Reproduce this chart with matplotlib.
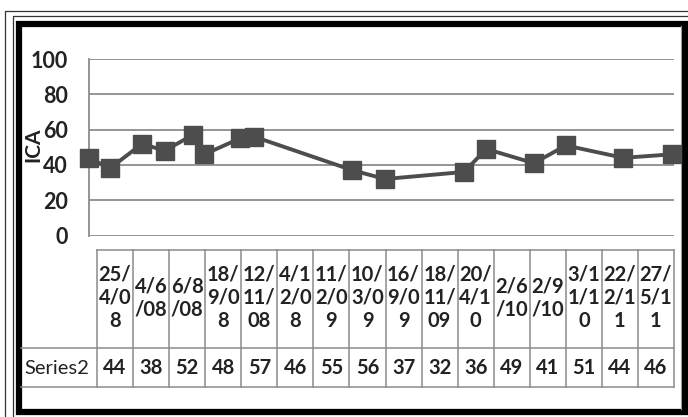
import matplotlib
matplotlib.use("Agg")
import matplotlib.pyplot as plt
import matplotlib.dates as mdates
from matplotlib.patches import Rectangle
from datetime import datetime

# data
dates = ["25/4/08", "4/6/08", "6/8/08", "18/9/08", "12/11/08", "4/12/08",
         "11/2/09", "10/3/09", "16/9/09", "18/11/09", "20/4/10", "2/6/10",
         "2/9/10", "3/11/10", "22/2/11", "27/5/11"]
ica = [44, 38, 52, 48, 57, 46, 55, 56, 37, 32, 36, 49, 41, 51, 44, 46]
series_name = "Series2"
y_ticks = [0, 20, 40, 60, 80, 100]

W, H = 688, 417
plt.rcParams["font.family"] = ["Lato", "DejaVu Sans"]

fig = plt.figure(figsize=(W / 100, H / 100), dpi=100)

# background layer in pixel coords for frame + data table
bg = fig.add_axes([0, 0, 1, 1])
bg.set_xlim(0, W)
bg.set_ylim(H, 0)
bg.axis("off")

# frame: two thin outer lines and a thick black border
bg.add_patch(Rectangle((5, 11), W + 10, H + 10, fill=False, ec="#333333", lw=0.9))
bg.add_patch(Rectangle((13, 16), W + 10, H + 10, fill=False, ec="#333333", lw=0.9))
bg.add_patch(Rectangle((18.5, 23.5), 666, 388, fill=False, ec="black", lw=4.5))
bg.plot([681, 681], [26, 409], color="#999999", lw=0.8)

# chart area
x = [datetime.strptime(d, "%d/%m/%y") for d in dates]
ax = fig.add_axes([89 / W, 1 - 235.5 / H, (674 - 89) / W, (235.5 - 59) / H])
ax.plot(x, ica, color="#4d4d4d", lw=2.8, marker="s", ms=13,
        mfc="#4d4d4d", mec="#4d4d4d", clip_on=False, zorder=3)
span = (x[-1] - x[0]).days
ax.set_xlim(mdates.date2num(x[0]), mdates.date2num(x[-1]) + span * 2 / 583)
ax.set_ylim(0, 100)
ax.set_yticks(y_ticks)
ax.set_yticklabels([str(t) for t in y_ticks], fontsize=15.5, fontweight="bold",
                   color="#222222")
ax.tick_params(axis="y", length=0, pad=15)
ax.set_xticks([])
ax.grid(axis="y", color="#8c8c8c", lw=1.3)
ax.set_axisbelow(True)
for s in ["top", "right", "bottom"]:
    ax.spines[s].set_visible(False)
ax.spines["left"].set_color("#8c8c8c")
ax.spines["left"].set_linewidth(1.3)
bg.text(33, 145, "ICA", rotation=90, ha="center", va="center", fontsize=15,
        fontweight="bold", color="#222222")

# data table under the chart
t_left, t_right = 97, 674
top, mid, bot = 250, 348, 387
n = len(dates)
cw = (t_right - t_left) / n
lc = "#8c8c8c"
bg.plot([t_left, t_right], [top, top], color=lc, lw=1.1)
bg.plot([21, t_right], [mid, mid], color=lc, lw=1.1)
bg.plot([21, t_right], [bot, bot], color=lc, lw=1.1)
for i in range(n + 1):
    cx = t_left + i * cw
    bg.plot([cx, cx], [top, bot], color=lc, lw=1.1)

for i, (d, v) in enumerate(zip(dates, ica)):
    cx = t_left + (i + 0.5) * cw
    wrapped = "\n".join(d[k:k + 3] for k in range(0, len(d), 3))
    bg.text(cx, 298, wrapped, ha="center", va="center", fontsize=14.5,
            fontweight="bold", color="#222222", linespacing=1.2)
    bg.text(cx, 368, str(v), ha="center", va="center", fontsize=14.5,
            fontweight="bold", color="#222222")
bg.text(57, 368, series_name, ha="center", va="center", fontsize=14.5,
        color="#222222")

fig.savefig("out.png", dpi=100)
